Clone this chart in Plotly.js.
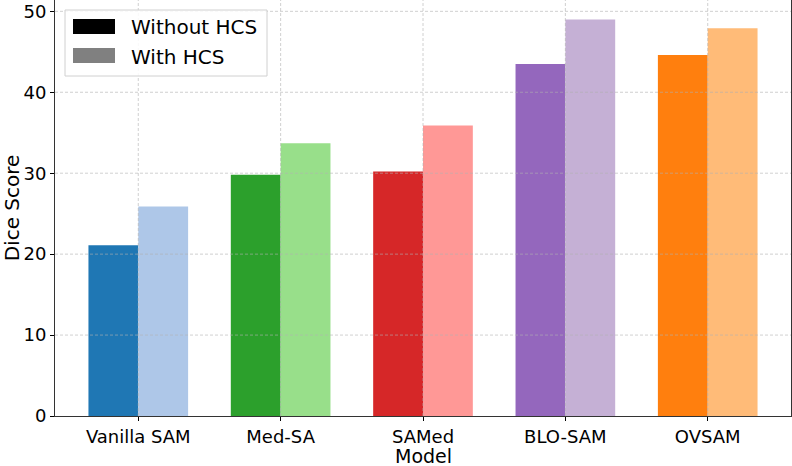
<!DOCTYPE html>
<html>
<head>
<meta charset="utf-8">
<script src="https://cdn.plot.ly/plotly-3.0.1.min.js"></script>
<style>html,body{margin:0;padding:0;background:#fff;}#chart{width:792px;height:466px;}</style>
</head>
<body>
<div id="chart"></div>
<script>
const categories = ["Vanilla SAM", "Med-SA", "SAMed", "BLO-SAM", "OVSAM"];
const withoutHCS = [21.1, 29.8, 30.2, 43.5, 44.6];
const withHCS = [25.9, 33.7, 35.9, 49.0, 47.9];
const darkColors = ["#1f77b4", "#2ca02c", "#d62728", "#9467bd", "#ff7f0e"];
const lightColors = ["#aec7e8", "#98df8a", "#ff9896", "#c5b0d5", "#ffbb78"];
const yTicks = [0, 10, 20, 30, 40, 50];
const legendLabels = ["Without HCS", "With HCS"];
const legendColors = ["#000000", "#808080"];
const xTitle = "Model";
const yTitle = "Dice Score";

const xIdx = categories.map((_, i) => i);
const font = "DejaVu Sans, Liberation Sans, sans-serif";
const YMAX = 51.4;

const traces = [
  {type: "bar", x: xIdx, y: withoutHCS, width: 0.35, offset: -0.35,
   marker: {color: darkColors, line: {width: 0}}, showlegend: false, name: legendLabels[0]},
  {type: "bar", x: xIdx, y: withHCS, width: 0.35, offset: 0,
   marker: {color: lightColors, line: {width: 0}}, showlegend: false, name: legendLabels[1]}
];

const L = 55, R = 791, T = 0, B = 416;
const px = v => (v - L) / (R - L);
const py = v => (B - v) / (B - T);

const gridLine = {color: "rgba(176,176,176,0.6)", width: 1, dash: "3px,2px"};
const shapes = [];
yTicks.forEach(v => {
  if (v > 0) shapes.push({type: "line", xref: "paper", yref: "y", x0: 0, x1: 1, y0: v, y1: v,
    line: gridLine, layer: "above"});
});
xIdx.forEach(v => {
  shapes.push({type: "line", xref: "x", yref: "paper", x0: v, x1: v, y0: 0, y1: 1,
    line: gridLine, layer: "above"});
});
shapes.push(
  {type: "rect", xref: "paper", yref: "paper", x0: px(65), x1: px(267), y0: py(76), y1: py(10),
   line: {color: "#d0d0d0", width: 1}, fillcolor: "rgba(255,255,255,0.85)", layer: "above"},
  {type: "rect", xref: "paper", yref: "paper", x0: px(73), x1: px(115), y0: py(34), y1: py(19),
   line: {width: 0}, fillcolor: legendColors[0], layer: "above"},
  {type: "rect", xref: "paper", yref: "paper", x0: px(73), x1: px(115), y0: py(63), y1: py(48),
   line: {width: 0}, fillcolor: legendColors[1], layer: "above"}
);
const annotations = [
  {xref: "paper", yref: "paper", x: px(129), y: py(27), text: legendLabels[0], showarrow: false,
   xanchor: "left", yanchor: "middle", font: {family: font, size: 20, color: "#000"}},
  {xref: "paper", yref: "paper", x: px(129), y: py(57), text: legendLabels[1], showarrow: false,
   xanchor: "left", yanchor: "middle", font: {family: font, size: 20, color: "#000"}},
  {xref: "paper", yref: "paper", x: 0.5, y: py(456), text: xTitle, showarrow: false,
   xanchor: "center", yanchor: "middle", font: {family: font, size: 19, color: "#000"}}
];

const layout = {
  width: 792, height: 466,
  margin: {l: L, r: 792 - R, t: T, b: 466 - B, pad: 0},
  paper_bgcolor: "#fff", plot_bgcolor: "#fff",
  barmode: "overlay",
  font: {family: font, color: "#000"},
  xaxis: {
    range: [-0.585, 4.585], tickmode: "array", tickvals: xIdx, ticktext: categories,
    ticks: "outside", ticklen: 4, tickwidth: 1, tickcolor: "#000",
    tickfont: {family: font, size: 18, color: "#000"},
    showline: true, mirror: true, linecolor: "#333", linewidth: 1,
    showgrid: false, zeroline: false, layer: "above traces"
  },
  yaxis: {
    range: [0, YMAX], tickmode: "array", tickvals: yTicks,
    ticks: "outside", ticklen: 4, tickwidth: 1, tickcolor: "#000",
    tickfont: {family: font, size: 18, color: "#000"},
    showline: true, mirror: true, linecolor: "#333", linewidth: 1,
    showgrid: false, zeroline: false, layer: "above traces",
    title: {text: yTitle, font: {family: font, size: 20, color: "#000"}, standoff: 6}
  },
  shapes: shapes,
  annotations: annotations
};

Plotly.newPlot("chart", traces, layout, {displayModeBar: false, staticPlot: true});
</script>
</body>
</html>
